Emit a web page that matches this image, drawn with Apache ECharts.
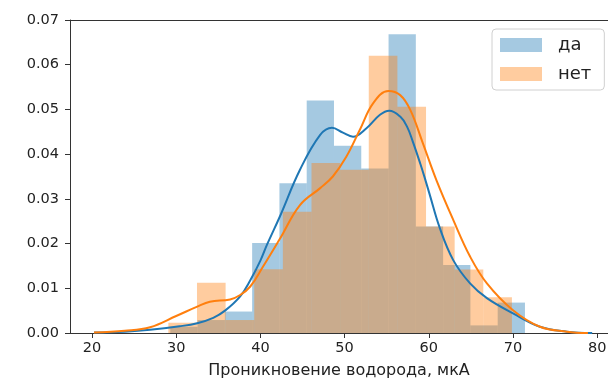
<!DOCTYPE html>
<html>
<head>
<meta charset="utf-8">
<script src="https://cdn.jsdelivr.net/npm/echarts@6/dist/echarts.min.js"></script>
<style>html,body{margin:0;padding:0;background:#fff;}#c{width:608px;height:379px;}</style>
</head>
<body>
<div id="c"></div>
<script>
// Histogram "да" (blue): bin edges and densities
var daEdges = [29.3, 32.54, 35.78, 39.02, 42.26, 45.5, 48.74, 51.98, 55.22, 58.46, 61.7, 64.94, 68.18, 71.42];
var daHeights = [0.0014, 0.0029, 0.0048, 0.0201, 0.0335, 0.052, 0.0419, 0.0368, 0.0668, 0.0238, 0.0152, 0.0017, 0.0068];
// Histogram "нет" (orange)
var netEdges = [29.07, 32.47, 35.87, 39.27, 42.67, 46.07, 49.47, 52.87, 56.27, 59.67, 63.07, 66.47, 69.87];
var netHeights = [0.0023, 0.01125, 0.0029, 0.01425, 0.0271, 0.038, 0.0365, 0.062, 0.0506, 0.0238, 0.0142, 0.008];
// KDE "да"
var daKdeX = [20.24, 23.9, 26.9, 30.4, 32.5, 34.4, 35.8, 37.6, 38.8, 40.0, 40.8, 42.3, 44.7, 47.1, 48.5, 49.8, 51.0, 52.6, 54.2, 55.3, 56.6, 57.4, 58.1, 59.0, 59.5, 60.1, 61.3, 62.9, 64.9, 66.9, 70.0, 73.2, 76.4, 79.4];
var daKdeY = [0.0001, 0.0003, 0.0007, 0.0015, 0.0022, 0.0034, 0.005, 0.0082, 0.0118, 0.0162, 0.0198, 0.026, 0.0365, 0.0443, 0.0459, 0.0448, 0.0439, 0.0458, 0.0488, 0.0497, 0.0484, 0.0462, 0.0428, 0.0378, 0.0348, 0.031, 0.0235, 0.0163, 0.0111, 0.0078, 0.0044, 0.0014, 0.0003, 0.0];
// KDE "нет"
var netKdeX = [20.24, 23.9, 26.9, 30.0, 32.5, 34.0, 36.4, 37.6, 38.8, 40.3, 42.3, 44.7, 47.1, 48.6, 50.2, 51.8, 53.4, 55.2, 56.6, 57.8, 59.3, 60.9, 62.9, 64.9, 66.9, 70.0, 73.2, 76.4, 78.9];
var netKdeY = [0.0001, 0.0005, 0.0013, 0.0038, 0.0059, 0.007, 0.0075, 0.0085, 0.0104, 0.0148, 0.021, 0.0286, 0.0324, 0.035, 0.0394, 0.0454, 0.0514, 0.0541, 0.0532, 0.0499, 0.0424, 0.0342, 0.0253, 0.0171, 0.0111, 0.0051, 0.0014, 0.0003, 0.0];
// Tick labels
var xTicks = [20, 30, 40, 50, 60, 70, 80];
var xName = 'Проникновение водорода, мкА';
var names = ['да', 'нет'];

var BLUE = '#1f77b4', ORANGE = '#ff7f0e';
var BLUE_A = 'rgba(31,119,180,0.4)', ORANGE_A = 'rgba(255,127,14,0.4)';
var FONT = 'DejaVu Sans';

function binData(edges, heights) {
  var out = [];
  for (var i = 0; i < heights.length; i++) out.push([edges[i], edges[i + 1], heights[i]]);
  return out;
}
function pairs(xs, ys) { return xs.map(function (x, i) { return [x, ys[i]]; }); }
function histSeries(name, edges, heights, color) {
  return {
    name: name, type: 'custom',
    itemStyle: { color: color },
    encode: { x: [0, 1], y: 2 },
    data: binData(edges, heights),
    renderItem: function (params, api) {
      var p0 = api.coord([api.value(0), api.value(2)]);
      var p1 = api.coord([api.value(1), 0]);
      return { type: 'rect', shape: { x: p0[0], y: p0[1], width: p1[0] - p0[0], height: p1[1] - p0[1] }, style: { fill: color } };
    }
  };
}
function lineSeries(name, xs, ys, color) {
  return { name: name, type: 'line', data: pairs(xs, ys), smooth: 0.4, showSymbol: false, symbol: 'none',
           lineStyle: { color: color, width: 2 }, itemStyle: { color: color }, z: 3 };
}

var chart = echarts.init(document.getElementById('c'), null, { renderer: 'canvas' });
chart.setOption({
  animation: false,
  backgroundColor: '#fff',
  grid: { left: 70, top: 20, right: 0, bottom: 46, containLabel: false, outerBoundsMode: 'none' },
  legend: {
    left: 492, top: 29, orient: 'vertical',
    padding: [7, 13, 7, 8], itemGap: 11, itemWidth: 42, itemHeight: 14,
    borderColor: '#d0d0d0', borderWidth: 1, borderRadius: 4, backgroundColor: 'rgba(255,255,255,0.8)',
    textStyle: { fontFamily: FONT, fontSize: 18, color: '#222', padding: [0, 0, 0, 11] },
    data: [
      { name: names[0], icon: 'rect', itemStyle: { color: BLUE_A } },
      { name: names[1], icon: 'rect', itemStyle: { color: ORANGE_A } }
    ]
  },
  xAxis: [{
    type: 'value', min: 17.39, max: 81.28,
    name: xName, nameLocation: 'middle', nameGap: 30,
    nameTextStyle: { fontFamily: FONT, fontSize: 16, color: '#222' },
    splitLine: { show: false },
    axisLine: { show: true, onZero: false, lineStyle: { color: '#333', width: 1 } },
    axisTick: { show: true, length: 5, customValues: xTicks, lineStyle: { color: '#333' } },
    axisLabel: { customValues: xTicks, margin: 8, fontFamily: FONT, fontSize: 14.5, color: '#222' }
  }, {
    type: 'value', position: 'top', min: 17.39, max: 81.28,
    axisLine: { show: true, onZero: false, lineStyle: { color: '#333', width: 1 } },
    axisTick: { show: false }, axisLabel: { show: false }, splitLine: { show: false }
  }],
  yAxis: {
    type: 'value', min: 0, max: 0.07, interval: 0.01,
    splitLine: { show: false },
    axisLine: { show: true, onZero: false, lineStyle: { color: '#333', width: 1 } },
    axisTick: { show: true, length: 5, lineStyle: { color: '#333' } },
    axisLabel: { margin: 11, fontFamily: FONT, fontSize: 14.5, color: '#222', formatter: function (v) { return v.toFixed(2); } }
  },
  series: [
    histSeries(names[0], daEdges, daHeights, BLUE_A),
    lineSeries('kde_da', daKdeX, daKdeY, BLUE),
    histSeries(names[1], netEdges, netHeights, ORANGE_A),
    lineSeries('kde_net', netKdeX, netKdeY, ORANGE)
  ]
});
</script>
</body>
</html>
